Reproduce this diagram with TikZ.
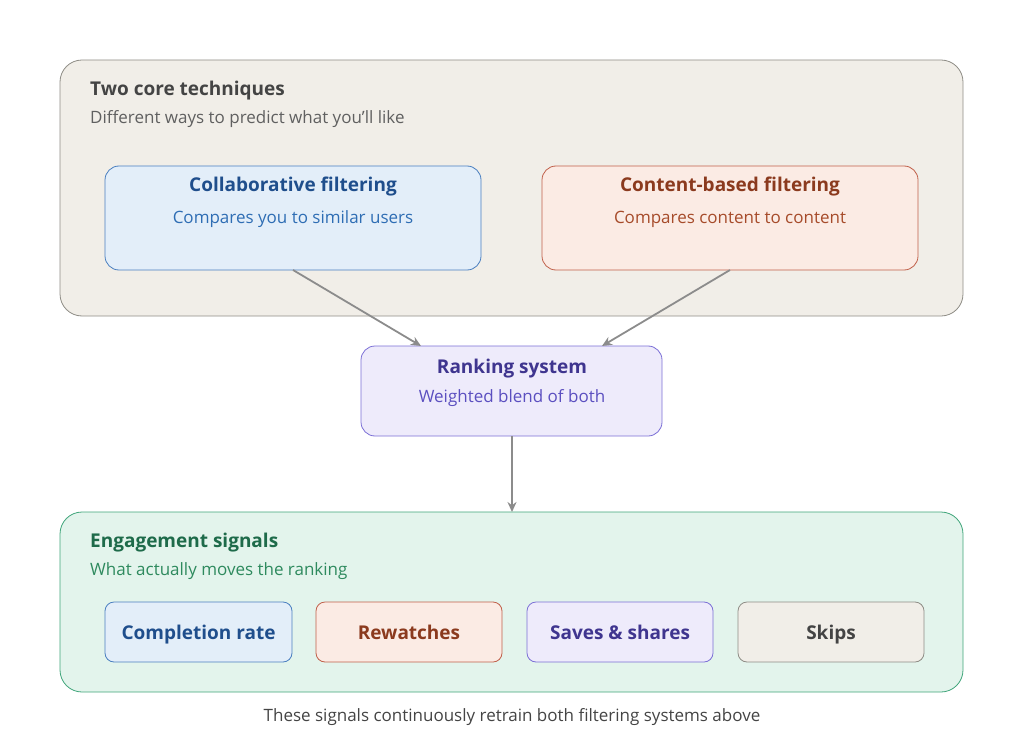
\documentclass[tikz,border=0pt]{standalone}
\usepackage{fontspec}
\setmainfont{Open Sans}
\usetikzlibrary{arrows.meta}
\definecolor{cont}{HTML}{F1EEE8}\definecolor{contb}{HTML}{8E8C85}
\definecolor{bl}{HTML}{E3EEF9}\definecolor{blb}{HTML}{4A7FC0}\definecolor{blt}{HTML}{1F4E8C}\definecolor{bls}{HTML}{2E6DB4}
\definecolor{or}{HTML}{FBEBE4}\definecolor{orb}{HTML}{C0604A}\definecolor{ort}{HTML}{8B3A1E}\definecolor{ors}{HTML}{A64B2A}
\definecolor{pu}{HTML}{EEEBFB}\definecolor{pub}{HTML}{7B6FD6}\definecolor{put}{HTML}{3F358F}\definecolor{pus}{HTML}{5B4FC0}
\definecolor{gr}{HTML}{E3F4EC}\definecolor{grb}{HTML}{3FA57A}\definecolor{grt}{HTML}{1E6B4A}\definecolor{grs}{HTML}{2E8A5E}
\definecolor{tx}{HTML}{444444}
\begin{document}
\begin{tikzpicture}[x=1pt,y=-1pt,
 big/.style={rounded corners=22pt,line width=0.8pt},
 box/.style={rounded corners=14pt,line width=0.8pt},
 sm/.style={rounded corners=9pt,line width=0.8pt},
 ttl/.style={font=\fontsize{19}{22}\selectfont\bfseries,anchor=west,inner sep=0pt},
 sub/.style={font=\fontsize{17}{20}\selectfont,anchor=west,inner sep=0pt},
 lbl/.style={font=\fontsize{19}{22}\selectfont\bfseries,text height=14pt,text depth=4pt},
 sb/.style={font=\fontsize{17}{20}\selectfont,text height=12pt,text depth=4pt},
 ar/.style={draw=gray!90,line width=1.8pt,-{Stealth[length=10pt,width=9pt]}}]
\useasboundingbox (0,0) rectangle (1024,743);
\draw[big,fill=cont,draw=contb] (60,60) rectangle (963,316);
\node[ttl,text=tx] (t1) at (90,91) {Two core techniques};
\node[sub,text=tx!85] (s1) at (90,119) {Different ways to predict what you'll like};
\draw[box,fill=bl,draw=blb] (105,166) rectangle (481,270);
\node[lbl,text=blt] (c1) at (293,187) {Collaborative filtering};
\node[sb,text=bls] (c2) at (293,220) {Compares you to similar users};
\draw[box,fill=or,draw=orb] (542,166) rectangle (918,270);
\node[lbl,text=ort] (d1) at (730,187) {Content-based filtering};
\node[sb,text=ors] (d2) at (730,220) {Compares content to content};
\draw[box,fill=pu,draw=pub] (361,346) rectangle (662,436);
\node[lbl,text=put] (r1) at (512,368) {Ranking system};
\node[sb,text=pus] (r2) at (512,398) {Weighted blend of both};
\draw[big,fill=gr,draw=grb] (60,512) rectangle (963,692);
\node[ttl,text=grt] (t2) at (90,543) {Engagement signals};
\node[sub,text=grs] (s2) at (90,571) {What actually moves the ranking};
\coordinate (ca) at (293,270);\coordinate (cb) at (421,346);
\coordinate (da) at (730,270);\coordinate (db) at (602,346);
\coordinate (ra) at (512,436);\coordinate (rb) at (512,512);
\draw[ar] (ca) -- (cb);
\draw[ar] (da) -- (db);
\draw[ar] (ra) -- (rb);
\draw[sm,fill=bl,draw=blb] (105,602) rectangle (292,662);
\node[lbl,text=blt] (e1) at (198.5,634) {Completion rate};
\draw[sm,fill=or,draw=orb] (316,602) rectangle (502,662);
\node[lbl,text=ort] (e2) at (409,634) {Rewatches};
\draw[sm,fill=pu,draw=pub] (527,602) rectangle (713,662);
\node[lbl,text=put] (e3) at (620,634) {Saves \& shares};
\draw[sm,fill=cont,draw=contb] (738,602) rectangle (924,662);
\node[lbl,text=tx] (e4) at (831,634) {Skips};
\node[sb,text=tx] (cap) at (512,717) {These signals continuously retrain both filtering systems above};
\end{tikzpicture}
\end{document}
